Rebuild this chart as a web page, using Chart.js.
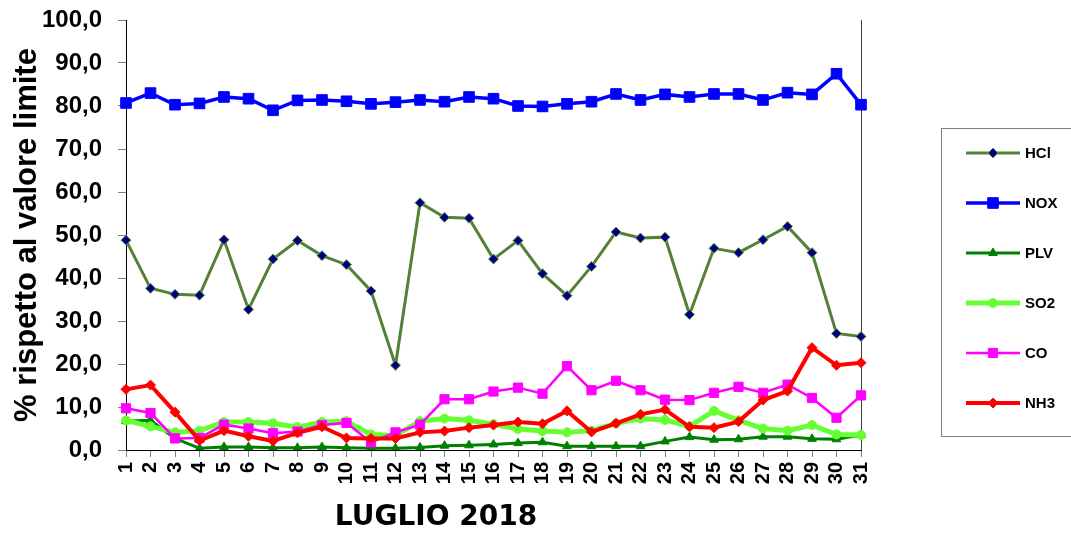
<!DOCTYPE html>
<html>
<head>
<meta charset="utf-8">
<script src="https://cdn.jsdelivr.net/npm/chart.js@4"></script>
<style>
  body { margin: 0; background: #fff; }
</style>
</head>
<body>
<canvas id="chart" width="1071" height="533"></canvas>
<script>
// Days of July 2018
const days = ['1','2','3','4','5','6','7','8','9','10','11','12','13','14','15','16',
              '17','18','19','20','21','22','23','24','25','26','27','28','29','30','31'];

// % rispetto al valore limite, one array per pollutant
const hcl = [48.8,37.6,36.2,36.0,48.9,32.7,44.4,48.7,45.2,43.1,37.0,19.7,57.5,54.1,53.9,44.4,
             48.7,41.0,35.9,42.7,50.7,49.3,49.5,31.5,46.9,45.9,48.9,52.0,45.9,27.1,26.4];
const nox = [80.7,83.0,80.3,80.6,82.1,81.7,79.0,81.3,81.4,81.1,80.5,80.9,81.4,81.0,82.1,81.7,
             80.0,79.9,80.5,81.0,82.8,81.4,82.7,82.1,82.8,82.8,81.4,83.1,82.7,87.5,80.3];
const plv = [6.7,6.9,2.7,0.4,0.7,0.7,0.5,0.5,0.7,0.5,0.4,0.4,0.6,1.0,1.1,1.3,
             1.6,1.8,0.9,0.9,0.9,0.9,2.0,3.0,2.4,2.5,3.1,3.1,2.6,2.5,3.5];
const so2 = [6.9,5.5,4.1,4.5,6.5,6.5,6.2,5.3,6.5,6.7,3.6,3.4,6.7,7.3,6.9,6.0,
             4.9,4.4,4.1,4.5,6.2,7.3,7.0,5.5,9.1,6.9,5.0,4.5,5.8,3.6,3.5];
const co  = [9.7,8.6,2.7,2.8,5.9,5.0,3.9,4.3,5.8,6.3,1.8,4.1,5.9,11.8,11.8,13.6,
             14.5,13.1,19.5,13.9,16.1,13.9,11.7,11.6,13.3,14.7,13.3,15.2,12.1,7.5,12.7];
const nh3 = [14.1,15.1,8.8,2.2,4.5,3.2,2.1,4.0,5.4,2.8,2.7,2.7,4.1,4.4,5.2,5.8,
             6.5,6.1,9.1,4.2,6.2,8.3,9.4,5.4,5.2,6.6,11.6,13.7,23.8,19.7,20.3];

const xTitle = 'LUGLIO 2018';
const yTitle = '% rispetto al valore limite';

const ARIAL = '"Liberation Sans", Arial, sans-serif';

// legend box + x title drawn by hand (Excel-style layout)
const excelBits = {
    id: 'excelBits',
    afterDraw(chart) {
        const ctx = chart.ctx;
        ctx.save();
        ctx.strokeStyle = '#808080';
        ctx.lineWidth = 1;
        ctx.strokeRect(941.5, 128.5, 150, 308);

        chart.data.datasets.forEach((ds, i) => {
            const y = 153 + i * 50;
            ctx.strokeStyle = ds.borderColor;
            ctx.lineWidth = ds.borderWidth;
            ctx.beginPath();
            ctx.moveTo(966, y);
            ctx.lineTo(1020, y);
            ctx.stroke();
            ctx.fillStyle = ds.pointBackgroundColor;
            ctx.strokeStyle = ds.pointBorderColor;
            ctx.lineWidth = ds.pointBorderWidth;
            Chart.helpers.drawPoint(ctx, {
                pointStyle: ds.pointStyle,
                radius: ds.pointRadius,
                borderWidth: ds.pointBorderWidth,
                rotation: 0
            }, 993, y);
            ctx.fillStyle = '#000';
            ctx.font = 'bold 15px ' + ARIAL;
            ctx.textAlign = 'left';
            ctx.textBaseline = 'middle';
            ctx.fillText(ds.label, 1025, y + 1);
        });

        ctx.fillStyle = '#000';
        ctx.font = 'bold 28px "DejaVu Sans", sans-serif';
        ctx.textAlign = 'center';
        ctx.textBaseline = 'alphabetic';
        ctx.fillText(xTitle, 436, 525);
        ctx.restore();
    }
};

const ctx1 = document.getElementById('chart').getContext('2d');
const pollutantChart = new Chart(ctx1, {
    type: 'line',
    data: {
        labels: days,
        datasets: [
            {
                label: 'HCl', data: hcl, order: 5,
                borderColor: '#538135', borderWidth: 3,
                pointStyle: 'rectRot', pointRadius: 5, pointHoverRadius: 5,
                pointBackgroundColor: '#000080', pointBorderColor: '#6a9a4a', pointBorderWidth: 1
            },
            {
                label: 'NOX', data: nox, order: 4,
                borderColor: '#0000ff', borderWidth: 3.5,
                pointStyle: 'rect', pointRadius: 7.5, pointHoverRadius: 7.5,
                pointBackgroundColor: '#0000ff', pointBorderColor: '#0000ff', pointBorderWidth: 1
            },
            {
                label: 'PLV', data: plv, order: 3,
                borderColor: '#008000', borderWidth: 3,
                pointStyle: 'triangle', pointRadius: 5, pointHoverRadius: 5,
                pointBackgroundColor: '#008000', pointBorderColor: '#008000', pointBorderWidth: 1
            },
            {
                label: 'SO2', data: so2, order: 2,
                borderColor: '#66ff33', borderWidth: 5,
                pointStyle: 'circle', pointRadius: 4.5, pointHoverRadius: 4.5,
                pointBackgroundColor: '#66ff33', pointBorderColor: '#66ff33', pointBorderWidth: 1
            },
            {
                label: 'CO', data: co, order: 1,
                borderColor: '#ff00ff', borderWidth: 2.5,
                pointStyle: 'rect', pointRadius: 6.5, pointHoverRadius: 6.5,
                pointBackgroundColor: '#ff00ff', pointBorderColor: '#ff00ff', pointBorderWidth: 1
            },
            {
                label: 'NH3', data: nh3, order: 0,
                borderColor: '#ff0000', borderWidth: 4,
                pointStyle: 'rectRot', pointRadius: 5, pointHoverRadius: 5,
                pointBackgroundColor: '#ff0000', pointBorderColor: '#ff0000', pointBorderWidth: 1
            }
        ]
    },
    options: {
        responsive: false,
        animation: false,
        layout: { padding: { top: 20, right: 210, left: 0, bottom: 0 } },
        plugins: {
            legend: { display: false },
            tooltip: { enabled: false }
        },
        scales: {
            x: {
                offset: false,
                afterFit: (s) => { s.height = 83; },
                border: { display: true, color: '#000', width: 1 },
                grid: {
                    drawOnChartArea: true,
                    color: (c) => c.index === days.length - 1 ? '#404040' : 'rgba(0,0,0,0)',
                    tickColor: '#808080',
                    tickLength: 7
                },
                ticks: {
                    autoSkip: false,
                    maxRotation: 90,
                    minRotation: 90,
                    padding: 5,
                    color: '#000',
                    font: { family: ARIAL, size: 20, weight: 'bold' }
                }
            },
            y: {
                min: 0,
                max: 100,
                // fixed width; tick padding should not push the plot top down
                afterFit: (s) => { s.width = 126; s.paddingTop = 5; s.paddingBottom = 5; },
                border: { display: true, color: '#000', width: 1 },
                grid: { drawOnChartArea: false, tickColor: '#808080', tickLength: 8 },
                ticks: {
                    stepSize: 10,
                    padding: 16,
                    color: '#000',
                    font: { family: ARIAL, size: 24, weight: 'bold' },
                    callback: (v) => v.toFixed(1).replace('.', ',')
                },
                title: {
                    display: true,
                    text: yTitle,
                    color: '#000',
                    padding: { top: 9, bottom: 0 },
                    font: { family: ARIAL, size: 31, weight: 'bold' }
                }
            }
        }
    },
    plugins: [excelBits]
});
</script>
</body>
</html>
